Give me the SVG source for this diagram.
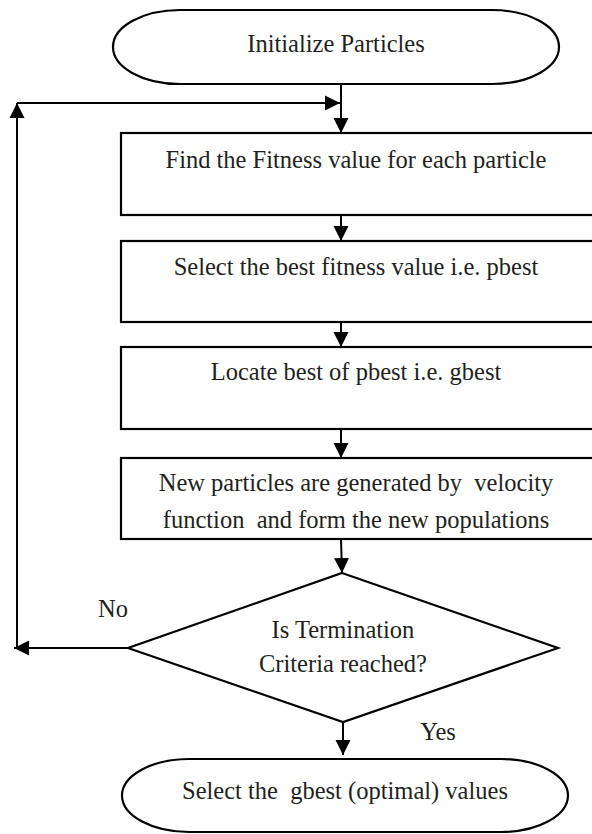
<svg xmlns="http://www.w3.org/2000/svg" width="592" height="834" viewBox="0 0 592 834">
<style>
.shape{fill:#fff;stroke:#000;stroke-width:2.2}
.line{fill:none;stroke:#000;stroke-width:2}
.t{font-family:'Liberation Serif','Times New Roman','DejaVu Serif',serif;font-size:24.5px;fill:#231f20;text-anchor:middle;white-space:pre}
</style>
<defs>
<marker id="ah" viewBox="0 0 16 16" refX="16" refY="8" markerWidth="15" markerHeight="16" markerUnits="userSpaceOnUse" orient="auto">
<path d="M0,0 L16,8 L0,16 Z" fill="#000"/>
</marker>
</defs>
<g id="connectors">
<path class="line" d="M341,84 V133" marker-end="url(#ah)"/>
<path class="line" d="M17,103 H340" marker-end="url(#ah)"/>
<path class="line" d="M17,648 V103" marker-end="url(#ah)"/>
<path class="line" d="M341,215 V241" marker-end="url(#ah)"/>
<path class="line" d="M341,322 V347" marker-end="url(#ah)"/>
<path class="line" d="M341,429 V458" marker-end="url(#ah)"/>
<path class="line" d="M341,539 L342,573" marker-end="url(#ah)"/>
<path class="line" d="M128,648 H14" marker-end="url(#ah)"/>
<path class="line" d="M343,722 V755" marker-end="url(#ah)"/>
</g>
<g id="start">
<path class="shape" d="M180,10 H492 A67,37 0 0 1 492,84 H180 A67,37 0 0 1 180,10 Z"/>
<text class="t" x="336" y="52">Initialize Particles</text>
</g>
<g id="fitness">
<rect class="shape" x="121" y="133" width="480" height="82"/>
<text class="t" x="356" y="168">Find the Fitness value for each particle</text>
</g>
<g id="pbest">
<rect class="shape" x="121" y="241" width="480" height="81"/>
<text class="t" x="356" y="275">Select the best fitness value i.e. pbest</text>
</g>
<g id="gbest">
<rect class="shape" x="121" y="347" width="480" height="82"/>
<text class="t" x="356" y="380">Locate best of pbest i.e. gbest</text>
</g>
<g id="update">
<rect class="shape" x="121" y="458" width="480" height="81"/>
<text class="t" x="356" y="491">New particles are generated by  velocity</text>
<text class="t" x="356" y="528">function  and form the new populations</text>
</g>
<g id="decision">
<path class="shape" d="M342,573 L558,648 L343,722 L128,648 Z"/>
<text class="t" x="343" y="638">Is Termination</text>
<text class="t" x="343" y="672">Criteria reached?</text>
</g>
<g id="labels">
<text class="t" x="113" y="617">No</text>
<text class="t" x="438" y="740">Yes</text>
</g>
<g id="end">
<path class="shape" d="M189,759 H501 A67,36.5 0 0 1 501,832 H189 A67,36.5 0 0 1 189,759 Z"/>
<text class="t" x="345" y="799">Select the  gbest (optimal) values</text>
</g>
</svg>
